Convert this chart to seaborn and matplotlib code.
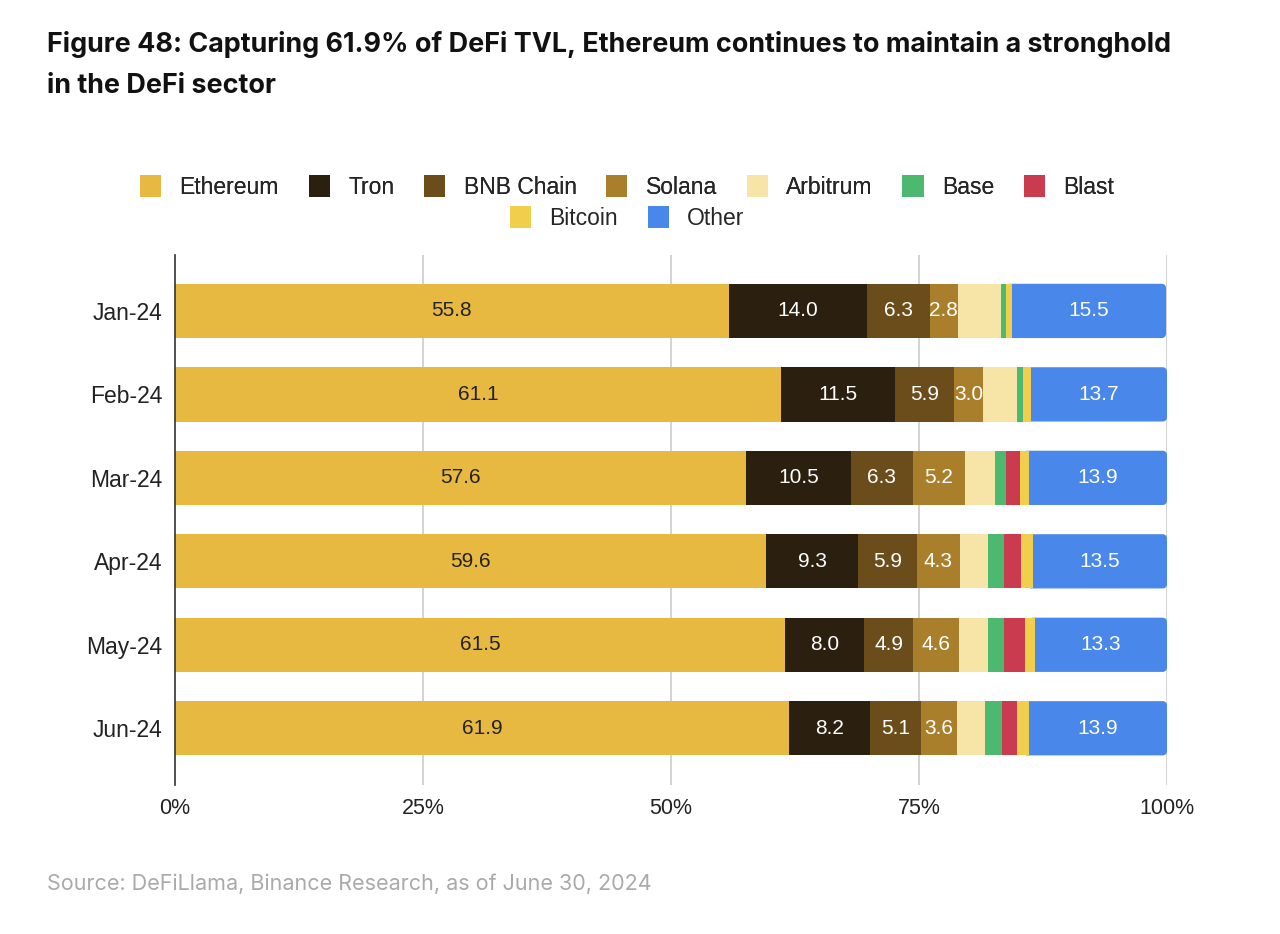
import numpy as np
import pandas as pd
import matplotlib
matplotlib.use("Agg")
import matplotlib.pyplot as plt
import seaborn as sns
from matplotlib.patches import Patch, PathPatch
from matplotlib.path import Path

months = ["Jan-24", "Feb-24", "Mar-24", "Apr-24", "May-24", "Jun-24"]
series_names = ["Ethereum", "Tron", "BNB Chain", "Solana", "Arbitrum", "Base", "Blast", "Bitcoin", "Other"]
ethereum = [55.8, 61.1, 57.6, 59.6, 61.5, 61.9]
tron = [14.0, 11.5, 10.5, 9.3, 8.0, 8.2]
bnb = [6.3, 5.9, 6.3, 5.9, 4.9, 5.1]
solana = [2.8, 3.0, 5.2, 4.3, 4.6, 3.6]
arbitrum = [4.4, 3.4, 3.1, 2.9, 3.0, 2.9]
base = [0.5, 0.6, 1.1, 1.6, 1.6, 1.7]
blast = [0.0, 0.0, 1.4, 1.7, 2.1, 1.5]
bitcoin = [0.6, 0.8, 0.9, 1.2, 1.0, 1.2]
other = [15.5, 13.7, 13.9, 13.5, 13.3, 13.9]
labelled = ["Ethereum", "Tron", "BNB Chain", "Solana", "Other"]

colors = {
    "Ethereum": "#E8B941",
    "Tron": "#2B2010",
    "BNB Chain": "#6A4D1B",
    "Solana": "#A97F2B",
    "Arbitrum": "#F6E5A6",
    "Base": "#4DB870",
    "Blast": "#CA3B4F",
    "Bitcoin": "#F1CF4C",
    "Other": "#4A87EA",
}

values = [ethereum, tron, bnb, solana, arbitrum, base, blast, bitcoin, other]
df = pd.DataFrame({n: v for n, v in zip(series_names, values)}, index=months)
cum = df.cumsum(axis=1)
starts = cum - df

sns.set_theme(style="white")
plt.rcParams["font.family"] = ["Liberation Sans", "DejaVu Sans"]

fig = plt.figure(figsize=(12.8, 9.34), dpi=100)
ax = fig.add_axes([0.1367, 0.1595, 0.775, 0.5675])

# grid lines
for x in [25, 50, 75, 100]:
    ax.axvline(x, color="#CCCCCC", lw=1.2, zorder=0)


def right_rounded(x0, y0, x1, y1, rx, ry):
    k = 0.5523
    verts = [(x0, y0), (x1 - rx, y0),
             (x1 - rx + k * rx, y0), (x1, y0 + ry - k * ry), (x1, y0 + ry),
             (x1, y1 - ry),
             (x1, y1 - ry + k * ry), (x1 - rx + k * rx, y1), (x1 - rx, y1),
             (x0, y1), (x0, y0)]
    codes = [Path.MOVETO, Path.LINETO,
             Path.CURVE4, Path.CURVE4, Path.CURVE4,
             Path.LINETO,
             Path.CURVE4, Path.CURVE4, Path.CURVE4,
             Path.LINETO, Path.CLOSEPOLY]
    return Path(verts, codes)


# stacked bars: each layer drawn by seaborn, then shifted to its stack offset
for name in series_names:
    n_before = len(ax.patches)
    sns.barplot(x=df[name].values, y=months, orient="h", color=colors[name],
                width=0.65, ax=ax, saturation=1, linewidth=0, zorder=2)
    new = list(ax.patches[n_before:])
    for p, left in zip(new, starts[name].values):
        p.set_x(left)
        if name == "Other":
            x1 = left + p.get_width()
            y0, y1 = p.get_y(), p.get_y() + p.get_height()
            # right-rounded bar, tucked slightly under the previous segment
            pp = PathPatch(right_rounded(left - 0.3, y0, x1, y1, 0.42, 0.05),
                           facecolor=p.get_facecolor(), edgecolor="none", zorder=1.9)
            p.set_visible(False)
            ax.add_patch(pp)

# labels
for name in labelled:
    ends = cum[name].values
    widths = df[name].values
    for i, (e, w) in enumerate(zip(ends, widths)):
        tc = "#222222" if name == "Ethereum" else "white"
        ax.text(e - w / 2, i, f"{w:.1f}", ha="center", va="center",
                fontsize=15, color=tc, zorder=5)

ax.set_xlim(0, 100)
ax.set_ylim(5.68, -0.67)
ax.set_xticks([0, 25, 50, 75, 100])
ax.set_xticklabels(["0%", "25%", "50%", "75%", "100%"], fontsize=15.5, color="#222222")
ax.tick_params(axis="x", length=0, pad=9)
ax.tick_params(axis="y", length=0, pad=9, labelsize=16.5, labelcolor="#222222")
ax.set_xlabel("")
ax.set_ylabel("")
for s in ["top", "right", "bottom"]:
    ax.spines[s].set_visible(False)
ax.spines["left"].set_color("#333333")
ax.spines["left"].set_linewidth(1.2)

# legends
row1 = series_names[:7]
row2 = series_names[7:]
h1 = [Patch(facecolor=colors[n], edgecolor="none") for n in row1]
h2 = [Patch(facecolor=colors[n], edgecolor="none") for n in row2]
leg_kw = dict(frameon=False, fontsize=16.5, handlelength=0.92, handleheight=1.05,
              columnspacing=1.3, handletextpad=0.8)
lg1 = fig.legend(h1, row1, loc="center", bbox_to_anchor=(0.49, 1 - 187 / 934), ncol=7, **leg_kw)
fig.add_artist(lg1)
fig.legend(h2, row2, loc="center", bbox_to_anchor=(0.49, 1 - 218 / 934), ncol=2, **leg_kw)

fig.text(47 / 1280, 1 - 45 / 934,
         "Figure 48: Capturing 61.9% of DeFi TVL, Ethereum continues to maintain a stronghold",
         fontsize=19.4, fontweight="bold", color="#111111", va="center", ha="left",
         family=["Inter", "DejaVu Sans"])
fig.text(47 / 1280, 1 - 86 / 934, "in the DeFi sector",
         fontsize=19.4, fontweight="bold", color="#111111", va="center", ha="left",
         family=["Inter", "DejaVu Sans"])
fig.text(47 / 1280, 1 - 884 / 934, "Source: DeFiLlama, Binance Research, as of June 30, 2024",
         fontsize=15.5, color="#AAAAAA", va="center", ha="left",
         family=["Inter", "DejaVu Sans"])

fig.savefig("out.png", dpi=100, facecolor="white")
